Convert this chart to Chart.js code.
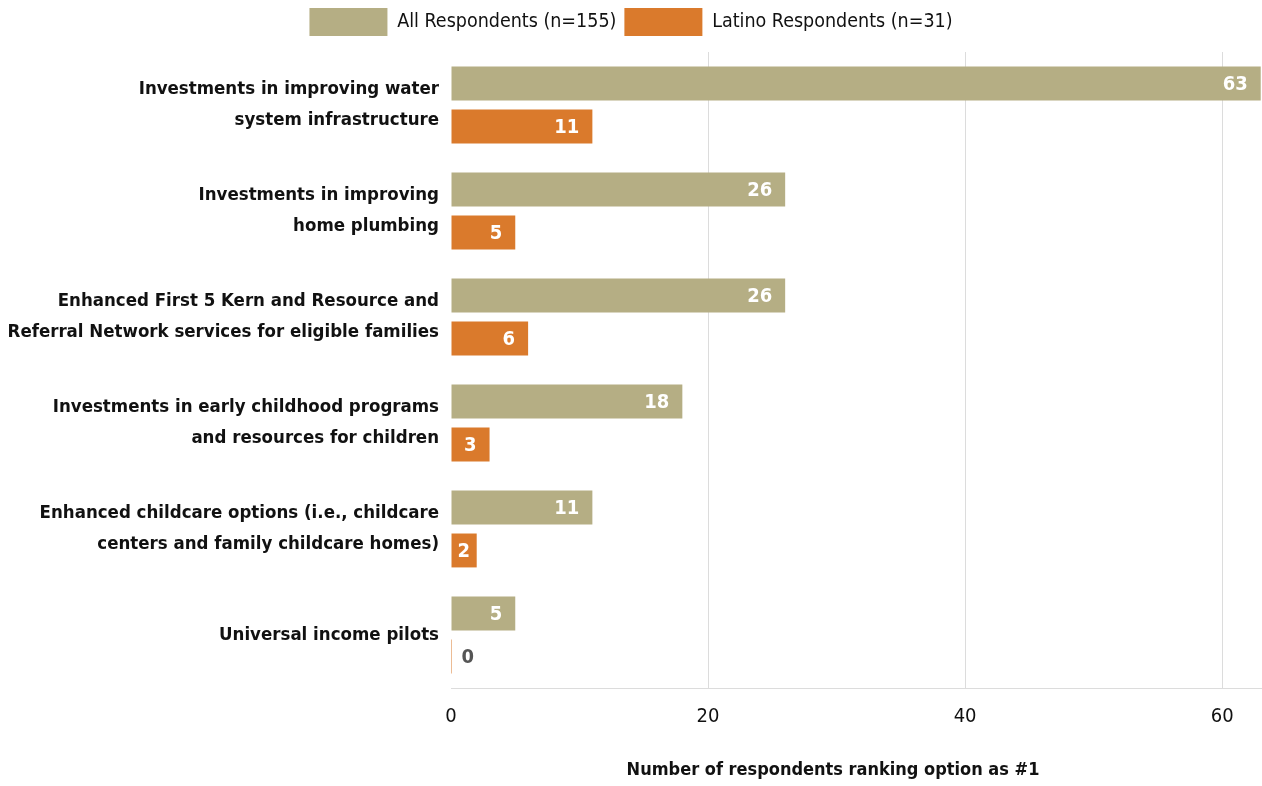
<!DOCTYPE html>
<html>
<head>
<meta charset="utf-8">
<script src="https://cdn.jsdelivr.net/npm/chart.js@4/dist/chart.umd.min.js"></script>
<style>
  html, body { margin: 0; padding: 0; background: #fff; }
  #wrap { width: 1262px; height: 786px; }
</style>
</head>
<body>
<div id="wrap"><canvas id="rankCanvas"></canvas></div>
<script>
const FONT = "'DejaVu Sans Condensed', 'Liberation Sans Narrow', 'Roboto', sans-serif";

const categories = [
    ["Investments in improving water", "system infrastructure"],
    ["Investments in improving", "home plumbing"],
    ["Enhanced First 5 Kern and Resource and", "Referral Network services for eligible families"],
    ["Investments in early childhood programs", "and resources for children"],
    ["Enhanced childcare options (i.e., childcare", "centers and family childcare homes)"],
    "Universal income pilots"
];
const allRespondents = [63, 26, 26, 18, 11, 5];
const latinoRespondents = [11, 5, 6, 3, 2, 0];
const xTicks = [0, 20, 40, 60];
const xTitle = "Number of respondents ranking option as #1";

// value labels: white inside the bar end, grey just past zero-length bars
const valueLabels = {
    id: "valueLabels",
    afterDatasetsDraw(chart) {
        const ctx = chart.ctx;
        ctx.save();
        ctx.font = "bold 20px " + FONT;
        ctx.textBaseline = "middle";
        chart.data.datasets.forEach((ds, i) => {
            chart.getDatasetMeta(i).data.forEach((bar, j) => {
                const v = ds.data[j];
                if (v > 0) {
                    const w = ctx.measureText(String(v)).width;
                    ctx.textAlign = "right";
                    ctx.fillStyle = "#fff";
                    ctx.fillText(v, Math.max(bar.x - 13, bar.base + 6 + w), bar.y + 1);
                } else {
                    ctx.textAlign = "left";
                    ctx.fillStyle = "#555";
                    ctx.fillText(v, bar.base + 10, bar.y + 1);
                }
            });
        });
        ctx.restore();
    }
};

// axis title drawn under the tick labels
const bottomTitle = {
    id: "bottomTitle",
    afterDraw(chart) {
        const ctx = chart.ctx;
        ctx.save();
        ctx.font = "bold 18px " + FONT;
        ctx.fillStyle = "#111";
        ctx.textAlign = "center";
        ctx.textBaseline = "middle";
        ctx.fillText(xTitle, 833, 770);
        ctx.restore();
    }
};

// a little extra room between the legend and the plot
const legendGap = {
    id: "legendGap",
    afterInit(chart) {
        const legend = chart.legend;
        if (!legend) return;
        const fit = legend.fit;
        legend.fit = function () {
            fit.call(this);
            this.height += 6;
        };
    }
};

new Chart(document.getElementById("rankCanvas"), {
    type: "bar",
    data: {
        labels: categories,
        datasets: [{
            label: "All Respondents (n=155)",
            data: allRespondents,
            backgroundColor: "#b5ae84"
        }, {
            label: "Latino Respondents (n=31)",
            data: latinoRespondents,
            backgroundColor: "#da7a2c",
            minBarLength: 1
        }]
    },
    options: {
        indexAxis: "y",
        responsive: true,
        maintainAspectRatio: false,
        animation: false,
        layout: { padding: { top: 0, right: 0, bottom: 40, left: 0 } },
        datasets: {
            bar: { categoryPercentage: 0.81, barPercentage: 0.79 }
        },
        plugins: {
            tooltip: { enabled: false },
            legend: {
                position: "top",
                labels: {
                    boxWidth: 78,
                    boxHeight: 28,
                    padding: 8,
                    color: "#111",
                    font: { family: FONT, size: 19.5 }
                }
            }
        },
        scales: {
            x: {
                min: 0,
                max: 63.1,
                afterBuildTicks(scale) {
                    scale.ticks = xTicks.map(v => ({ value: v }));
                },
                grid: {
                    color: c => (c.tick && c.tick.value === 0) ? "rgba(0,0,0,0)" : "#dcdcdc",
                    drawTicks: false
                },
                border: { color: "#dcdcdc" },
                ticks: {
                    color: "#111",
                    padding: 17,
                    font: { family: FONT, size: 20 }
                }
            },
            y: {
                grid: { display: false, drawTicks: false },
                border: { display: false },
                afterFit(scale) { scale.width = 451; },
                ticks: {
                    color: "#111",
                    padding: 12,
                    font: { family: FONT, size: 18.5, weight: "bold", lineHeight: 1.68 }
                }
            }
        }
    },
    plugins: [valueLabels, bottomTitle, legendGap]
});
</script>
</body>
</html>
